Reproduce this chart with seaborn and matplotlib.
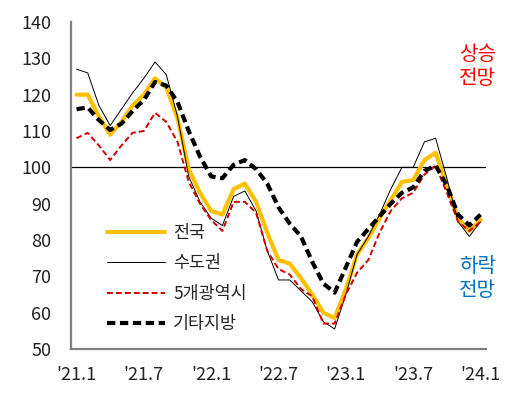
import matplotlib
matplotlib.use("Agg")
import matplotlib.pyplot as plt
import numpy as np
import pandas as pd
import seaborn as sns

# 월별 전망지수 ('21.1 ~ '24.1)
national = [120, 120, 114, 109, 112.5, 117, 120, 124.5, 122, 113.5,
            99.5, 93, 88, 87, 94, 95.5, 90.5, 82, 74.5, 73.5,
            69.5, 65, 60, 58.5, 66.5, 76, 80.5, 86, 91, 96,
            96.5, 102, 104, 95, 86, 82.5, 85.5]
capital = [127, 126, 117, 111.5, 116, 120.5, 124.5, 129, 125.5, 114,
           97.5, 90.5, 86, 84, 92, 93.5, 88, 77, 69, 69,
           66, 63, 57.5, 55.5, 65, 76, 81, 87, 94, 100,
           100, 107, 108, 97, 85, 81, 85]
metro = [108, 109.5, 106, 102, 106, 109.5, 110, 115, 112.5, 107,
         96, 90, 85.5, 82.5, 90.5, 90.5, 87.5, 77, 72, 70.5,
         66.5, 64.5, 57, 57, 65, 71, 74.5, 82, 88, 91.5,
         93, 98, 100.5, 93, 85, 82.5, 85]
other = [116, 116.5, 113, 110.3, 112, 115.5, 118.5, 123.5, 122.5, 118,
         110, 103, 97.5, 97, 100.7, 102, 99.5, 95.5, 89, 84.5,
         81, 74, 68, 65.5, 72.5, 79.5, 83, 86.5, 90, 93,
         94.5, 99, 100.5, 95, 87, 84, 87]
xtick_labels = ["'21.1", "'21.7", "'22.1", "'22.7", "'23.1", "'23.7", "'24.1"]

sns.set_style("white")
plt.rcParams['font.family'] = ['Noto Sans CJK KR', 'DejaVu Sans']

df = pd.DataFrame({'x': np.arange(len(national)),
                   '전국': national, '수도권': capital,
                   '5개광역시': metro, '기타지방': other})

fig = plt.figure(figsize=(5.29, 3.93), dpi=100)
ax = fig.add_axes([0.134, 0.112, 0.785, 0.832])

ax.axhline(100, color='black', linewidth=0.9, zorder=1)

sns.lineplot(data=df, x='x', y='전국', color='#FFC000', linewidth=3,
             label='전국', ax=ax, zorder=3)
sns.lineplot(data=df, x='x', y='수도권', color='black', linewidth=0.7,
             label='수도권', ax=ax, zorder=4)
sns.lineplot(data=df, x='x', y='5개광역시', color='#D00000', linewidth=1.4,
             label='5개광역시', ax=ax, zorder=4)
sns.lineplot(data=df, x='x', y='기타지방', color='black', linewidth=3,
             label='기타지방', ax=ax, zorder=5)
lines = ax.get_lines()
lines[3].set_linestyle((0, (3, 1.6)))   # 5개광역시
lines[4].set_linestyle((0, (2, 1.1)))   # 기타지방

ax.set_xlim(-0.5, 36.5)
ax.set_ylim(50, 140)
ax.set_yticks(range(50, 141, 10))
ax.set_xticks(np.arange(-0.5, 36, 3))
ax.set_xticklabels([])
ax.set_xticks(np.arange(0, 37, 6), minor=True)
ax.set_xticklabels(xtick_labels, minor=True)
ax.tick_params(axis='x', which='major', direction='out', length=5,
               width=1.2, color='#808080')
ax.tick_params(axis='x', which='minor', length=0, pad=12, labelsize=13,
               labelcolor='#222222')
ax.tick_params(axis='y', direction='out', length=5, width=1.2,
               color='#808080', labelsize=13, labelcolor='#222222', pad=9)
ax.set_xlabel('')
ax.set_ylabel('')
for s in ['top', 'right']:
    ax.spines[s].set_visible(False)
for s in ['left', 'bottom']:
    ax.spines[s].set_color('#808080')
    ax.spines[s].set_linewidth(1.6)

leg = ax.legend(loc='lower left', bbox_to_anchor=(0.05, 0.0), frameon=False,
                fontsize=12.5, handlelength=3.3, labelspacing=0.72,
                handletextpad=0.5)

ax.text(0.98, 0.865, '상승\n전망', transform=ax.transAxes, color='#FF0000',
        fontsize=14.5, ha='center', va='center', linespacing=1.2)
ax.text(0.98, 0.215, '하락\n전망', transform=ax.transAxes, color='#0070C0',
        fontsize=14.5, ha='center', va='center', linespacing=1.2)

fig.savefig('out.png', dpi=100)
